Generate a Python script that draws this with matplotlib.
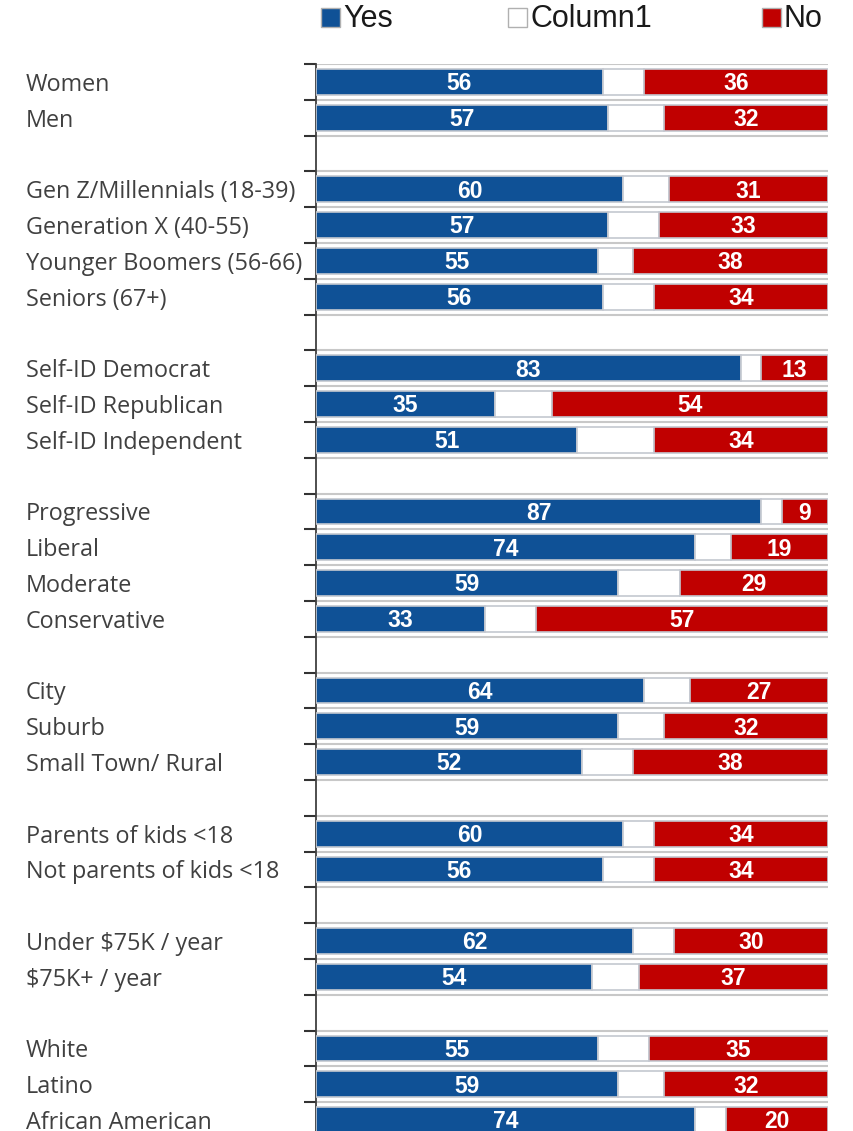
import matplotlib
matplotlib.use("Agg")
import matplotlib.pyplot as plt
from matplotlib.patches import Rectangle
from matplotlib.transforms import blended_transform_factory
import numpy as np

# survey groups, blank spacer rows go between them
groups = [
    ["Women", "Men"],
    ["Gen Z/Millennials (18-39)", "Generation X (40-55)", "Younger Boomers (56-66)", "Seniors (67+)"],
    ["Self-ID Democrat", "Self-ID Republican", "Self-ID Independent"],
    ["Progressive", "Liberal", "Moderate", "Conservative"],
    ["City", "Suburb", "Small Town/ Rural"],
    ["Parents of kids <18", "Not parents of kids <18"],
    ["Under $75K / year", "$75K+ / year"],
    ["White", "Latino", "African American"],
]
yes = [[56, 57], [60, 57, 55, 56], [83, 35, 51], [87, 74, 59, 33],
       [64, 59, 52], [60, 56], [62, 54], [55, 59, 74]]
no = [[36, 32], [31, 33, 38, 34], [13, 54, 34], [9, 19, 29, 57],
      [27, 32, 38], [34, 34], [30, 37], [35, 32, 20]]

BLUE = "#0f5196"
RED = "#c00000"
EDGE = "#c4c8d0"

# lay the groups out on rows, one empty row after each group
labels, rows, yv, nv = [], [], [], []
r = 0
for g, ys, ns in zip(groups, yes, no):
    for lab, a, b in zip(g, ys, ns):
        labels.append(lab)
        rows.append(r)
        yv.append(a)
        nv.append(b)
        r += 1
    r += 1
nrows = r - 1
rows = np.array(rows)
yv = np.array(yv)
nv = np.array(nv)
mid = 100 - yv - nv  # "Column1": undecided share

W, H = 854, 1131
fig = plt.figure(figsize=(W / 100, H / 100), dpi=100)
pitch = 35.8
top_px = 64
ax = fig.add_axes([316 / W, (H - top_px - nrows * pitch) / H, 512 / W, nrows * pitch / H])

bh = 0.72
ax.barh(rows, yv, height=bh, color=BLUE, edgecolor=EDGE, linewidth=1.2, zorder=3)
ax.barh(rows, mid, left=yv, height=bh, color="white", edgecolor=EDGE, linewidth=1.2, zorder=3)
ax.barh(rows, nv, left=yv + mid, height=bh, color=RED, edgecolor=EDGE, linewidth=1.2, zorder=3)

for y, a, m, b in zip(rows, yv, mid, nv):
    ax.text(a / 2, y + 0.05, str(a), ha="center", va="center", color="white",
            fontsize=16.5, fontweight="bold", family="Liberation Sans", zorder=4)
    ax.text(a + m + b / 2, y + 0.05, str(b), ha="center", va="center", color="white",
            fontsize=16.5, fontweight="bold", family="Liberation Sans", zorder=4)

ax.set_xlim(0, 100)
ax.set_ylim(nrows - 0.5, -0.5)

# category boundaries: gridlines plus outward ticks on the left spine
bounds = np.arange(-0.5, nrows, 1.0)
ax.set_yticks(bounds)
ax.set_yticklabels([])
ax.tick_params(axis="y", length=9, width=1.5, color="#333333", direction="out")
ax.set_xticks([])
ax.grid(axis="y", color="#c8c8c8", linewidth=1.5, zorder=0)
for s in ["top", "right", "bottom"]:
    ax.spines[s].set_visible(False)
ax.spines["left"].set_color("#404040")
ax.spines["left"].set_linewidth(1.3)

trans = blended_transform_factory(fig.transFigure, ax.transData)
for lab, y in zip(labels, rows):
    ax.text(26 / W, y + 0.08, lab, transform=trans, ha="left", va="center",
            fontsize=16.8, color="#404040", family="Open Sans")

# legend across the top
legend_items = [("Yes", BLUE, 321), ("Column1", "white", 508), ("No", RED, 762)]
for name, col, x0 in legend_items:
    fig.patches.append(Rectangle((x0 / W, (H - 27) / H), 19 / W, 19 / H,
                                 facecolor=col, edgecolor="#b0b0b0", linewidth=1,
                                 transform=fig.transFigure, figure=fig))
    fig.text((x0 + 22) / W, (H - 19) / H, name, ha="left", va="center",
             fontsize=22, color="#1a1a1a", family="Liberation Sans")

fig.savefig("out.png", dpi=100)
